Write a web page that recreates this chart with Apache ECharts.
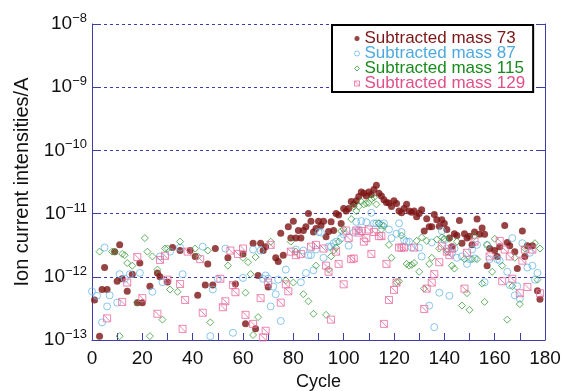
<!DOCTYPE html>
<html><head><meta charset="utf-8">
<script src="https://cdn.jsdelivr.net/npm/echarts@6/dist/echarts.min.js"></script>
<style>html,body{margin:0;padding:0;background:#fff}#c{width:562px;height:391px}</style>
</head><body><div id="c"></div>
<script>
const seriesNames = ['Subtracted mass 73', 'Subtracted mass 87', 'Subtracted mass 115', 'Subtracted mass 129'];
const xTicks = [0, 20, 40, 60, 80, 100, 120, 140, 160, 180];
const yTicks = [1e-13, 1e-12, 1e-11, 1e-10, 1e-9, 1e-8];

const mass73 = [[1,4.3e-13],[3,1.15e-13],[4,6.3e-13],[5,1.4e-12],[6,6.3e-13],[9,2.5e-12],[10,8.5e-13],[11,3.2e-12],[12,9.3e-13],[14,5.9e-13],[16,1.1e-12],[18,3.9e-13],[19,1.65e-12],[20,3.9e-13],[23,7.1e-13],[26,1.15e-12],[27,1.0e-12],[30,8.3e-13],[32,2.9e-12],[35,2.6e-12],[39,2.6e-12],[41,2.1e-12],[42,5.1e-13],[45,7.4e-13],[46,1.6e-12],[48,7.4e-13],[49,2.8e-12],[54,2.0e-12],[57,7.7e-13],[60,2.3e-12],[61,1.8e-13],[64,3.4e-12],[65,1.5e-13],[66,1.05e-12],[67,3.4e-12],[68,2.6e-12],[69,3.0e-12],[70,6.9e-13],[73,2.0e-12],[74,1.74e-12],[75,4.9e-12],[76,2.2e-12],[78,6.2e-12],[79,4.1e-12],[80,7.6e-12],[81,4.1e-12],[82,5.4e-12],[83,4.1e-12],[84,5.4e-12],[85,6.2e-12],[86,1.0e-11],[87,7.6e-12],[88,5.1e-12],[89,5.8e-12],[90,7.6e-12],[91,6.5e-12],[92,7.6e-12],[93,4.3e-12],[94,5.2e-12],[95,7.4e-12],[96,5.4e-12],[97,1.0e-11],[98,9.5e-12],[99,7.0e-12],[100,1.2e-11],[101,1.1e-11],[102,1.2e-11],[103,1.55e-11],[104,1.4e-11],[105,1.6e-11],[106,1.87e-11],[107,2.2e-11],[108,2.1e-11],[109,1.9e-11],[110,2.2e-11],[111,2.0e-11],[112,2.4e-11],[113,2.8e-11],[114,2.1e-11],[115,1.9e-11],[116,1.65e-11],[117,1.5e-11],[118,1.47e-11],[119,1.3e-11],[120,1.6e-11],[121,1.45e-11],[122,1.1e-11],[123,1.03e-11],[124,1.2e-11],[125,1.4e-11],[126,1.1e-11],[127,1.05e-11],[128,1.1e-11],[129,8.9e-12],[130,1.0e-11],[131,1.15e-11],[132,5.3e-12],[133,8.3e-12],[134,6.2e-12],[135,6.2e-12],[136,9.7e-12],[137,8.0e-12],[138,6.3e-12],[139,8.0e-12],[140,7.0e-12],[141,5.6e-12],[142,4.1e-12],[143,3.0e-12],[144,4.8e-12],[145,4.5e-12],[146,7.8e-12],[147,3.4e-12],[148,4.8e-12],[149,4.1e-12],[150,4.4e-12],[151,3.2e-12],[152,5.1e-12],[153,8.2e-12],[154,4.7e-12],[155,5.9e-12],[156,4.7e-12],[157,1.5e-12],[158,2.8e-12],[160,2.6e-12],[161,2.1e-12],[162,3.0e-12],[164,6.5e-12],[165,3.5e-12],[166,3.1e-12],[168,2.5e-12],[169,1.35e-12],[171,5.3e-12],[172,2.1e-12],[173,3.1e-12],[175,3.1e-12],[177,6.0e-13],[178,4.4e-13]];

const mass87 = [[0,5.9e-13],[2,5.0e-13],[4,1.9e-13],[5,2.9e-12],[6,3.4e-13],[7,5.1e-13],[10,3.9e-13],[11,1.1e-12],[13,9.3e-13],[15,1.1e-12],[19,1.15e-12],[24,5.8e-13],[27,2.1e-12],[28,8.2e-13],[31,2.5e-12],[35,2.9e-12],[36,1.1e-12],[44,3.0e-12],[47,1.15e-13],[48,6.3e-13],[50,9.3e-13],[53,2.8e-12],[56,1.3e-13],[60,9.6e-13],[64,2.7e-12],[67,2.6e-12],[68,9.3e-13],[69,1.05e-12],[70,9.3e-13],[71,3.4e-13],[72,7.0e-13],[73,5.3e-13],[74,9.0e-13],[75,2.0e-13],[77,1.3e-12],[81,2.7e-12],[83,8.2e-13],[84,2.6e-12],[85,1.15e-12],[86,2.2e-12],[87,2.2e-12],[88,1.27e-12],[89,2.7e-12],[90,5.1e-12],[91,5.0e-12],[92,2.0e-12],[94,3.0e-12],[95,3.0e-12],[96,3.4e-12],[97,3.6e-12],[99,4.1e-12],[100,4.7e-12],[102,3.1e-12],[104,5.0e-12],[105,7.4e-12],[106,5.6e-12],[107,7.6e-12],[109,7.3e-12],[111,1.03e-11],[112,7.0e-12],[113,7.0e-12],[114,7.0e-12],[115,6.5e-12],[116,7.0e-12],[118,5.6e-12],[119,4.1e-12],[121,4.8e-12],[122,7.0e-12],[123,5.1e-12],[124,3.8e-12],[125,3.6e-12],[126,3.6e-12],[127,2.9e-12],[130,2.9e-12],[131,2.1e-12],[134,3.5e-13],[135,3.5e-12],[136,1.6e-13],[138,5.6e-13],[139,5.3e-12],[140,3.8e-12],[141,2.8e-12],[142,5.0e-13],[143,2.4e-12],[144,2.8e-12],[145,2.0e-12],[147,2.1e-12],[149,1.6e-12],[150,1.9e-12],[151,2.7e-12],[152,1.95e-12],[153,3.2e-12],[156,8.2e-13],[157,3.2e-12],[158,1.9e-12],[161,1.9e-12],[162,1.8e-12],[165,1.2e-12],[166,7.4e-13],[167,4.1e-12],[168,5.1e-13],[169,7.1e-13],[170,4.5e-13],[171,3.4e-12],[173,1.4e-12],[174,2.4e-12],[175,1.5e-12],[176,9.0e-13],[177,1.15e-12]];

const mass115 = [[3,2.5e-12],[8,2.5e-12],[9,2.5e-12],[11,1.15e-13],[12,2.3e-12],[13,2.2e-12],[14,1.65e-12],[16,1.5e-12],[18,3.9e-13],[21,4.1e-12],[22,2.5e-12],[23,1.15e-13],[24,2.1e-12],[26,1.3e-12],[28,2.1e-13],[29,2.8e-12],[30,2.8e-12],[31,6.3e-13],[34,5.8e-13],[35,3.6e-12],[41,2.8e-12],[42,2.1e-12],[46,2.6e-12],[47,1.9e-13],[54,1.5e-12],[60,2.0e-12],[61,5.6e-13],[62,1.7e-12],[63,1.1e-12],[64,1.2e-13],[65,2.05e-12],[66,2.3e-13],[71,3.6e-12],[77,8.8e-13],[79,3.6e-12],[80,8.1e-13],[81,2.5e-12],[84,5.3e-13],[86,4.1e-13],[88,2.6e-13],[89,1.5e-12],[93,2.5e-13],[94,1.3e-12],[95,2.1e-12],[96,2.6e-12],[97,2.9e-12],[98,3.6e-12],[99,5.3e-12],[100,5.7e-12],[103,8.2e-12],[104,1.3e-11],[105,1.1e-11],[106,1.3e-11],[107,1.55e-11],[108,1.4e-11],[109,1.45e-11],[110,1.47e-11],[111,1.7e-11],[112,1.8e-11],[113,1.4e-11],[114,7.0e-12],[115,5.6e-12],[116,6.4e-12],[118,3.2e-12],[119,2.0e-12],[121,8.2e-13],[122,8.5e-13],[123,4.5e-12],[125,1.6e-12],[126,1.5e-12],[127,1.55e-12],[128,1.65e-12],[129,3.7e-12],[130,1.2e-12],[131,4.2e-12],[132,6.5e-13],[133,3.7e-12],[134,1.6e-12],[135,2.0e-12],[137,3.9e-12],[138,2.8e-12],[139,4.2e-12],[140,4.0e-12],[141,2.5e-12],[142,4.0e-12],[143,1.5e-12],[144,1.35e-12],[145,3.6e-12],[147,3.5e-13],[148,1.9e-12],[149,5.5e-13],[150,3.0e-13],[151,1.9e-12],[152,4.4e-12],[153,1.9e-12],[155,7.8e-13],[156,4.0e-13],[157,3.2e-12],[159,1.2e-12],[160,4.0e-12],[163,1.5e-12],[165,2.1e-13],[167,7.1e-13],[168,2.0e-12],[170,3.7e-13],[172,2.8e-12],[176,3.4e-12],[177,9.0e-13],[178,2.8e-12]];

const mass129 = [[6,2.2e-13],[12,4.0e-13],[14,8.1e-13],[18,2.05e-12],[20,4.6e-13],[26,2.6e-13],[27,1.85e-12],[29,2.15e-12],[30,9.0e-13],[35,7.7e-13],[36,1.5e-13],[37,4.3e-13],[38,2.5e-12],[43,1.9e-12],[44,2.7e-13],[51,9.3e-13],[52,3.3e-13],[53,4.1e-13],[55,2.6e-12],[56,7.4e-13],[57,5.7e-13],[58,2.3e-12],[60,2.8e-12],[61,2.5e-13],[64,1.8e-13],[67,4.6e-13],[68,1.1e-13],[69,1.4e-13],[70,8.1e-13],[71,3.2e-12],[75,3.9e-13],[77,7.6e-13],[78,5.9e-13],[79,2.5e-12],[81,2.2e-12],[83,2.3e-12],[87,3.0e-12],[89,3.2e-12],[92,2.8e-12],[93,1.5e-12],[94,1.2e-12],[95,2.1e-13],[97,2.5e-12],[98,1.6e-12],[100,7.6e-13],[101,5.4e-12],[102,4.1e-12],[103,1.9e-12],[104,1.95e-12],[105,5.4e-12],[106,5.0e-12],[107,5.3e-12],[108,3.6e-12],[109,4.1e-12],[110,5.6e-12],[111,2.3e-12],[112,5.1e-12],[114,4.4e-12],[115,4.4e-12],[116,1.8e-13],[117,1.6e-12],[118,4.3e-13],[120,6.2e-13],[121,8.1e-13],[122,2.9e-12],[123,2.9e-12],[124,2.9e-12],[128,2.9e-12],[132,3.1e-13],[133,6.5e-13],[135,8.1e-13],[136,1.1e-12],[138,1.7e-12],[139,3.1e-12],[141,2.5e-12],[142,2.2e-12],[143,2.8e-12],[148,6.5e-13],[149,2.4e-12],[152,3.6e-12],[158,2.1e-12],[162,3.7e-12],[163,8.5e-13],[164,2.7e-12],[166,2.1e-12],[167,9.3e-13],[170,5.5e-13],[171,1.8e-12],[172,2.7e-12],[173,6.9e-13],[175,2.7e-12],[178,5.5e-13]];

const AX = '#3d3da8';
const FONT = '"Liberation Sans", Arial, Helvetica, sans-serif';
const chart = echarts.init(document.getElementById('c'), null, {renderer: 'canvas'});

function supLabel(v) {
  const e = Math.round(Math.log10(v));
  return '{b|10}{s|' + (e < 0 ? '\u2212' + (-e) : e) + '}';
}
const yLabelRich = {
  b: {fontSize: 19, fontFamily: FONT, color: '#111'},
  s: {fontSize: 13, fontFamily: FONT, color: '#111', padding: [0, 0, 11, 0]}
};

chart.setOption({
  animation: false,
  backgroundColor: '#fff',
  textStyle: {fontFamily: FONT},
  grid: {left: 92, right: 17, top: 24, bottom: 51, containLabel: false, outerBoundsMode: 'none'},
  legend: {
    left: 332, top: 25, orient: 'vertical',
    backgroundColor: '#fff', borderColor: '#000', borderWidth: 2,
    padding: [5, 8, 0, 22], itemGap: -2, itemWidth: 5, itemHeight: 5,
    textStyle: {fontSize: 17, fontFamily: FONT},
    data: [
      {name: seriesNames[0], textStyle: {color: '#7d1616'}},
      {name: seriesNames[1], textStyle: {color: '#4ea9e0'}, itemStyle: {borderWidth: 1}},
      {name: seriesNames[2], textStyle: {color: '#198a1e'}, itemStyle: {borderWidth: 1}},
      {name: seriesNames[3], textStyle: {color: '#e0508a'}, itemStyle: {borderWidth: 1}}
    ]
  },
  xAxis: {
    type: 'value', min: xTicks[0], max: xTicks[xTicks.length - 1], interval: 20,
    name: 'Cycle', nameLocation: 'middle', nameGap: 33,
    nameTextStyle: {fontSize: 18, color: '#111', fontFamily: FONT},
    axisLine: {show: true, lineStyle: {color: AX, width: 1}},
    axisTick: {show: true, inside: true, length: 7, lineStyle: {color: AX}},
    minorTick: {show: true, splitNumber: 2, length: 7, lineStyle: {color: AX}},
    axisLabel: {fontSize: 19, color: '#111', margin: 9, fontFamily: FONT},
    splitLine: {show: false}
  },
  yAxis: [{
    type: 'log', logBase: 10, min: yTicks[0], max: yTicks[yTicks.length - 1],
    name: 'Ion current intensities/A', nameLocation: 'middle', nameGap: 58,
    nameTextStyle: {fontSize: 20, color: '#111', fontFamily: FONT},
    axisLine: {show: true, lineStyle: {color: AX, width: 1}},
    axisTick: {show: true, inside: true, length: 7, lineStyle: {color: AX}},
    axisLabel: {formatter: supLabel, rich: yLabelRich, margin: 5},
    splitLine: {show: true, lineStyle: {color: AX, type: [3, 3], width: 1}}
  }, {
    type: 'log', logBase: 10, min: yTicks[0], max: yTicks[yTicks.length - 1], position: 'right',
    axisLine: {show: true, lineStyle: {color: AX, width: 1}},
    axisTick: {show: true, inside: true, length: 7, lineStyle: {color: AX}},
    axisLabel: {show: false}, splitLine: {show: false}
  }],
  series: [
    {name: seriesNames[0], type: 'scatter', data: mass73, symbol: 'circle', symbolSize: 7,
     itemStyle: {color: '#7d1414'}},
    {name: seriesNames[1], type: 'scatter', data: mass87, symbol: 'circle', symbolSize: 7,
     itemStyle: {color: 'rgba(0,0,0,0)', borderColor: '#6ab9e8', borderWidth: 1}},
    {name: seriesNames[2], type: 'scatter', data: mass115, symbol: 'diamond', symbolSize: 7,
     itemStyle: {color: 'rgba(0,0,0,0)', borderColor: '#3c9e3c', borderWidth: 1}},
    {name: seriesNames[3], type: 'scatter', data: mass129, symbol: 'path://M0,0H10V10H0Z M0,0L10,10', symbolSize: 7,
     itemStyle: {color: 'rgba(0,0,0,0)', borderColor: '#e86c9c', borderWidth: 1}}
  ]
});
</script></body></html>
